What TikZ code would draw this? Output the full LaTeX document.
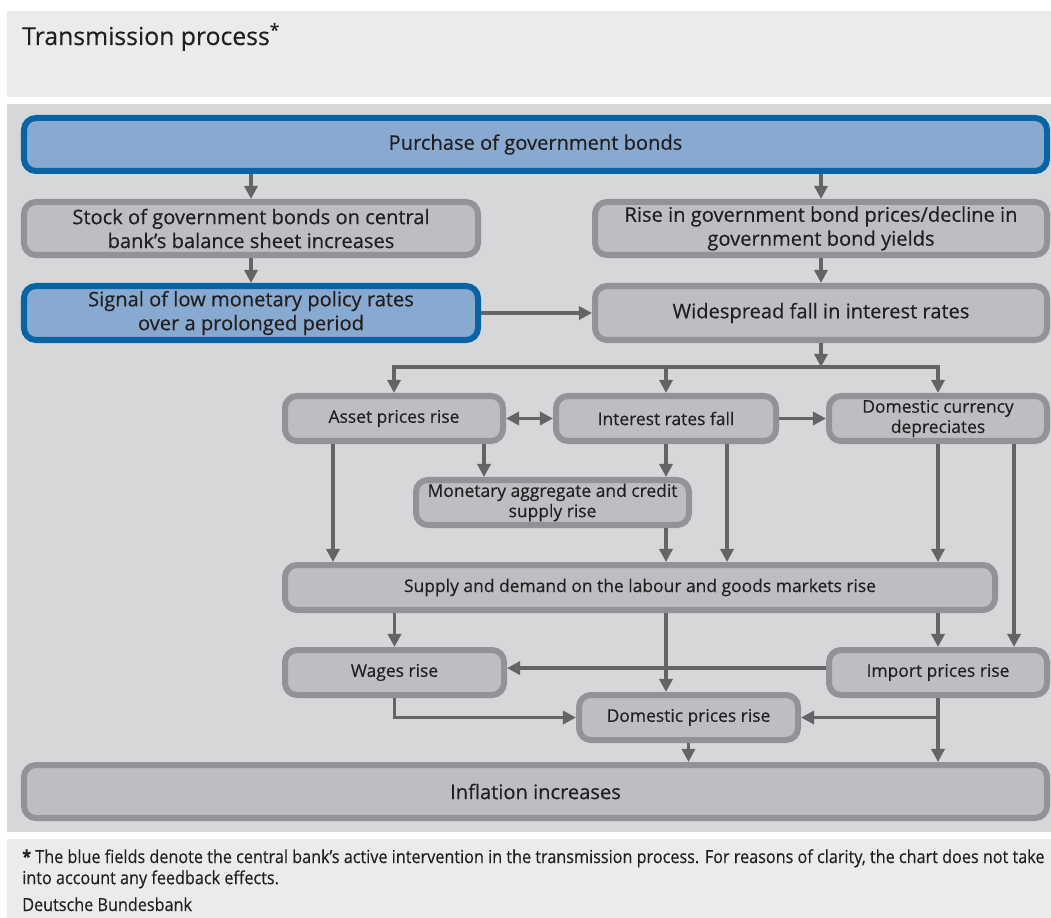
\documentclass[tikz,border=0pt]{standalone}
\usepackage{fontspec}
\setmainfont{Open Sans}[FakeBold=0.4]
\newfontfamily\notefont[FakeStretch=0.9,FakeBold=0.3]{Open Sans}
\usetikzlibrary{arrows.meta}
\definecolor{panel}{HTML}{D6D7D9}
\definecolor{lightpanel}{HTML}{EBEBED}
\definecolor{boxfill}{HTML}{BDBEC1}
\definecolor{boxline}{HTML}{929396}
\definecolor{bluefill}{HTML}{88AAD1}
\definecolor{blueline}{HTML}{0A64A4}
\definecolor{arrowgrey}{HTML}{636466}
\definecolor{textgrey}{HTML}{231F20}
\begin{document}
\begin{tikzpicture}[x=0.025cm, y=-0.025cm,
    >={Triangle[length=0.33cm,width=0.33cm]},
    every node/.style={text=textgrey, inner sep=0pt},
    box/.style={draw=boxline, fill=boxfill, line width=4.27pt, rounded corners=0.3cm, align=center},
    bluebox/.style={box, draw=blueline, fill=bluefill},
    bigtext/.style={font=\fontsize{14.3}{17}\selectfont},
    smalltext/.style={font=\fontsize{12.4}{14.4}\selectfont},
    boxsize/.style 2 args={minimum width=#1*0.025cm, minimum height=#2*0.025cm},
    link/.style={draw=arrowgrey, line width=2.4pt},
    arr/.style={link, ->}]
    \useasboundingbox (0,0) rectangle (1051,918);
    % panels
    \fill[lightpanel] (7,11) rectangle (1051,97);
    \fill[panel] (7,104) rectangle (1051,832);
    \fill[lightpanel] (7,839) rectangle (1051,918);
    \node[anchor=base west, font=\fontsize{17.6}{20}\selectfont] (title) at (22,45) {Transmission process\textsuperscript{*}};

    % boxes
    \node[bluebox, bigtext, boxsize={1023}{53}] (buy) at (535.5,144.5) {Purchase of government bonds};
    \node[box, bigtext, boxsize={454}{53}] (stock) at (251,228.5) {Stock of government bonds on central\\bank’s balance sheet increases};
    \node[box, bigtext, boxsize={452}{53}] (bondprice) at (821,228.5) {Rise in government bond prices/decline in\\government bond yields};
    \node[bluebox, bigtext, boxsize={454}{54}] (signal) at (251,313) {Signal of low monetary policy rates\\over a prolonged period};
    \node[box, bigtext, boxsize={452}{54}] (fall) at (821,313) {Widespread fall in interest rates};
    \node[box, smalltext, boxsize={218}{45}] (asset) at (394,418.5) {Asset prices rise};
    \node[box, smalltext, boxsize={220}{45}] (rates) at (666,418.5) {Interest rates fall};
    \node[box, smalltext, boxsize={218}{45}] (currency) at (938,418.5) {Domestic currency\\depreciates};
    \node[box, smalltext, boxsize={273}{45}] (money) at (552.5,502.5) {Monetary aggregate and credit\\supply rise};
    \node[box, smalltext, boxsize={710}{45}] (market) at (640,587.5) {Supply and demand on the labour and goods markets rise};
    \node[box, smalltext, boxsize={219}{45}] (wages) at (394.5,672.5) {Wages rise};
    \node[box, smalltext, boxsize={218}{45}] (import) at (938,672.5) {Import prices rise};
    \node[box, smalltext, boxsize={219}{45}] (domestic) at (688.5,717.5) {Domestic prices rise};
    \node[box, bigtext, boxsize={1023}{53}] (inflation) at (535.5,791.5) {Inflation increases};

    % arrows
    \draw[arr] (buy.south -| stock.north) -- (stock.north);
    \draw[arr] (buy.south -| bondprice.north) -- (bondprice.north);
    \draw[arr] (stock) -- (signal);
    \draw[arr] (bondprice) -- (fall);
    \draw[arr] (signal) -- (fall);
    \coordinate (split) at (821,367);
    \draw[arr] (fall) -- (split);
    \draw[arr] (split) -| (asset);
    \draw[arr] (split) -| (currency);
    \draw[arr] (rates.north |- split) -- (rates);
    \draw[link, <->] (asset) -- (rates);
    \draw[arr] (rates) -- (currency);
    \draw[arr] ([xshift=2.25cm]asset.south) -- ([xshift=2.25cm]asset.south |- money.north);
    \draw[arr] (rates.south) -- (rates.south |- money.north);
    \draw[arr] ([xshift=-1.525cm]asset.south) -- ([xshift=-1.525cm]asset.south |- market.north);
    \draw[arr] (money.south -| rates.south) -- (rates.south |- market.north);
    \draw[arr] ([xshift=1.525cm]rates.south) -- ([xshift=1.525cm]rates.south |- market.north);
    \draw[arr] (currency.south) -- (currency.south |- market.north);
    \draw[arr] ([xshift=1.9cm]currency.south) -- ([xshift=1.9cm]import.north);
    \draw[arr] (market.south -| wages.north) -- (wages.north);
    \draw[arr] (market.south -| rates.south) -- (rates.south |- domestic.north);
    \draw[arr] (market.south -| import.north) -- (import.north);
    \draw[arr] ([yshift=0.11cm]import.west) -- ([yshift=0.11cm]wages.east);
    \draw[arr] (wages.south) |- (domestic.west);
    \draw[arr] (import.south) |- (domestic.east);
    \draw[arr] (import.south) -- (import.south |- inflation.north);
    \draw[arr] (domestic.south) -- (domestic.south |- inflation.north);

    % notes
    \node[anchor=north west, align=left, font=\notefont\fontsize{12.8}{15}\selectfont] (note) at (22,849) {\textbf{*} The blue fields denote the central bank’s active intervention in the transmission process. For reasons of clarity, the chart does not take\\into account any feedback effects.};
    \node[anchor=base west, font=\notefont\fontsize{12.8}{15}\selectfont] (source) at (22,911) {Deutsche Bundesbank};
\end{tikzpicture}
\end{document}
